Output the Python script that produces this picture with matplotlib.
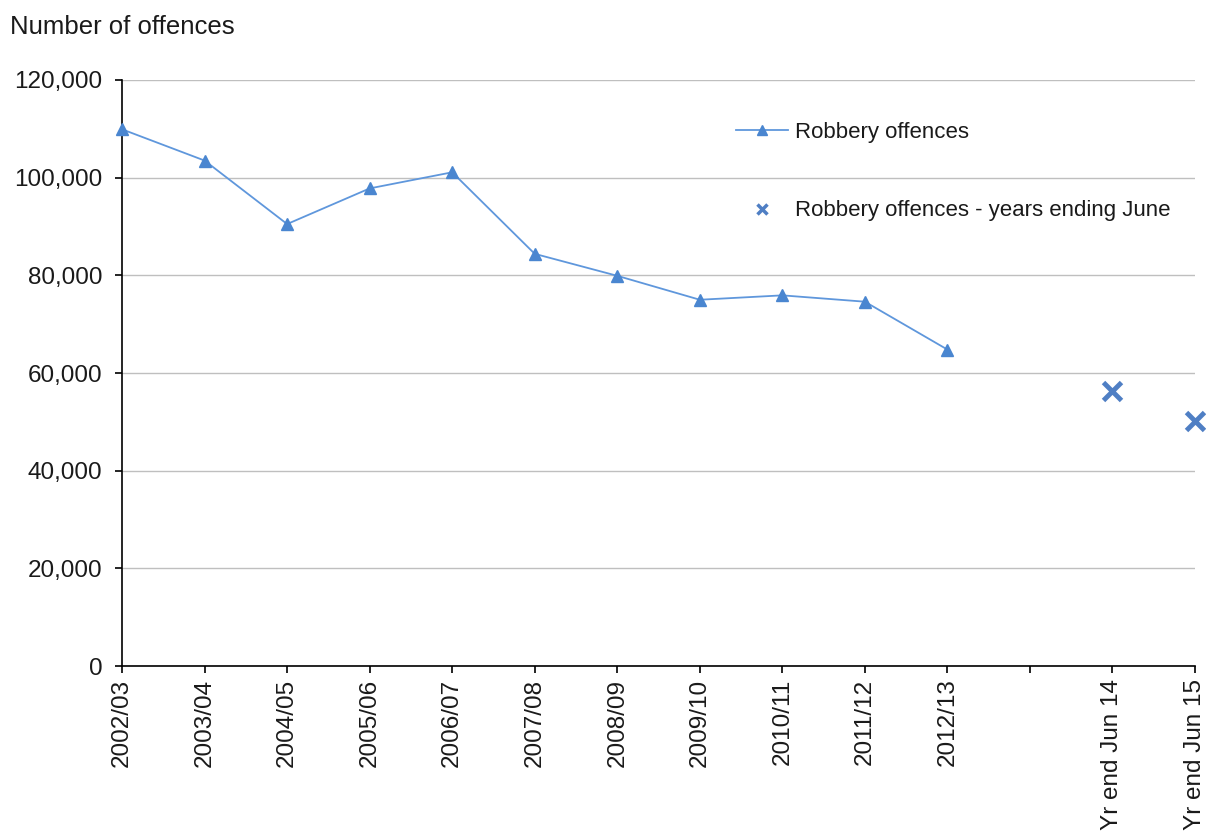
import matplotlib

matplotlib.use("Agg")
import matplotlib.pyplot as plt
from matplotlib.lines import Line2D
from matplotlib.ticker import FuncFormatter

# categories on the x axis (one blank slot between the two series)
categories = [
    "2002/03", "2003/04", "2004/05", "2005/06", "2006/07", "2007/08",
    "2008/09", "2009/10", "2010/11", "2011/12", "2012/13", "",
    "Yr end Jun 14", "Yr end Jun 15",
]
annual_labels = categories[:11]
annual_offences = [
    109900, 103500, 90500, 97800, 101100, 84400,
    79900, 75000, 75900, 74600, 64800,
]
june_labels = ["Yr end Jun 14", "Yr end Jun 15"]
june_offences = [56300, 50100]

LINE_COLOR = "#5F97DC"
MARKER_COLOR = "#4A86D0"
CROSS_COLOR = "#4F7FC4"

plt.rcParams["font.family"] = ["Liberation Sans", "DejaVu Sans"]

fig = plt.figure(figsize=(12.06, 8.34), dpi=100)
ax = fig.add_axes([0.1012, 0.2014, 0.8897, 0.7027])

pos = {label: i for i, label in enumerate(categories)}
ax.plot(
    [pos[c] for c in annual_labels],
    annual_offences,
    color=LINE_COLOR,
    linewidth=1.3,
    marker="^",
    markersize=8,
    markerfacecolor=MARKER_COLOR,
    markeredgecolor=MARKER_COLOR,
    clip_on=False,
    zorder=3,
)
ax.plot(
    [pos[c] for c in june_labels],
    june_offences,
    linestyle="none",
    marker="x",
    markersize=13,
    markeredgewidth=3.5,
    color=CROSS_COLOR,
    clip_on=False,
    zorder=3,
)

ax.set_xlim(0, len(categories) - 1)
ax.set_ylim(0, 120000)
ax.set_yticks(range(0, 120001, 20000))
ax.yaxis.set_major_formatter(FuncFormatter(lambda v, _: f"{int(v):,}"))
ax.set_xticks(range(len(categories)))
ax.set_xticklabels(categories, rotation=90, va="top", ha="center")

ax.grid(axis="y", color="#BFBFBF", linewidth=1.0)
ax.set_axisbelow(True)
for side in ("top", "right"):
    ax.spines[side].set_visible(False)
for side in ("left", "bottom"):
    ax.spines[side].set_color("black")
    ax.spines[side].set_linewidth(1.2)
ax.tick_params(axis="both", direction="out", length=5, width=1.2, color="black",
               labelsize=17.5, labelcolor="#1a1a1a")
ax.tick_params(axis="x", pad=4)
ax.tick_params(axis="y", pad=9)

fig.text(0.008, 0.968, "Number of offences", fontsize=18.5, color="#1a1a1a",
         ha="left", va="center")

handles = [
    Line2D([], [], color=LINE_COLOR, linewidth=1.3, marker="^", markersize=7,
           markerfacecolor=MARKER_COLOR, markeredgecolor=MARKER_COLOR),
    Line2D([], [], linestyle="none", marker="x", markersize=7,
           markeredgewidth=2.5, color=CROSS_COLOR),
]
fig.legend(
    handles,
    ["Robbery offences", "Robbery offences - years ending June"],
    loc="center left",
    bbox_to_anchor=(0.610, 0.7944),
    frameon=False,
    fontsize=16,
    labelspacing=2.6,
    handlelength=2.35,
    handletextpad=0.3,
    borderpad=0,
    borderaxespad=0,
    labelcolor="#1a1a1a",
)

fig.savefig("out.png", dpi=100)
